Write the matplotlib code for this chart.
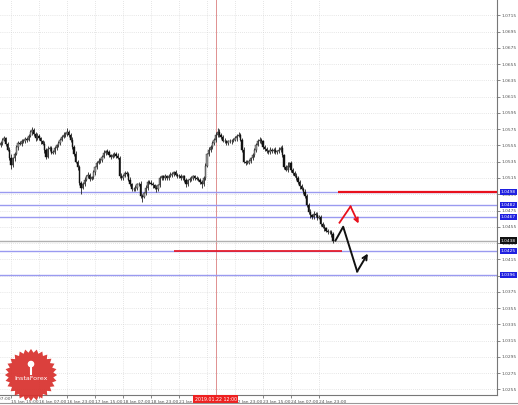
import numpy as np
import matplotlib
matplotlib.use("Agg")
import matplotlib.pyplot as plt
import matplotlib.transforms as mtransforms

# EURUSD-like H1 closes, one per bar
closes = [
    1.0558, 1.0562, 1.0564, 1.0557, 1.0550, 1.0540, 1.0531, 1.0539, 1.0545, 1.0553,
    1.0558, 1.0557, 1.0561, 1.0560, 1.0563, 1.0562, 1.0567, 1.0571, 1.0574, 1.0569,
    1.0564, 1.0567, 1.0564, 1.0560, 1.0557, 1.0550, 1.0541, 1.0551, 1.0552, 1.0546,
    1.0547, 1.0552, 1.0555, 1.0558, 1.0562, 1.0566, 1.0568, 1.0569, 1.0572, 1.0568,
    1.0562, 1.0553, 1.0545, 1.0535, 1.0528, 1.0509, 1.0503, 1.0508, 1.0513, 1.0517,
    1.0519, 1.0514, 1.0516, 1.0522, 1.0528, 1.0534, 1.0536, 1.0537, 1.0541, 1.0546,
    1.0548, 1.0547, 1.0543, 1.0541, 1.0543, 1.0545, 1.0542, 1.0540, 1.0518, 1.0515,
    1.0518, 1.0521, 1.0520, 1.0513, 1.0507, 1.0502, 1.0501, 1.0503, 1.0507, 1.0508,
    1.0493, 1.0492, 1.0496, 1.0503, 1.0510, 1.0509, 1.0508, 1.0506, 1.0503, 1.0501,
    1.0506, 1.0515, 1.0517, 1.0515, 1.0517, 1.0515, 1.0518, 1.0519, 1.0520, 1.0522,
    1.0519, 1.0518, 1.0517, 1.0515, 1.0517, 1.0512, 1.0507, 1.0512, 1.0514, 1.0515,
    1.0517, 1.0515, 1.0514, 1.0513, 1.0510, 1.0507, 1.0515, 1.0530, 1.0544, 1.0550,
    1.0553, 1.0558, 1.0562, 1.0568, 1.0572, 1.0568, 1.0566, 1.0561, 1.0560, 1.0558,
    1.0560, 1.0560, 1.0561, 1.0562, 1.0564, 1.0567, 1.0568, 1.0562, 1.0550, 1.0535,
    1.0534, 1.0534, 1.0536, 1.0539, 1.0543, 1.0550, 1.0556, 1.0560, 1.0562, 1.0560,
    1.0553, 1.0551, 1.0548, 1.0547, 1.0550, 1.0548, 1.0550, 1.0547, 1.0548, 1.0550,
    1.0552, 1.0543, 1.0529, 1.0525, 1.0530, 1.0533, 1.0525, 1.0521, 1.0518, 1.0515,
    1.0510, 1.0505, 1.0502, 1.0498, 1.0493, 1.0482, 1.0473, 1.0469, 1.0467, 1.0471,
    1.0469, 1.0466, 1.0467, 1.0459, 1.0455, 1.0453, 1.0450, 1.0449, 1.0448, 1.0446,
    1.0438,
]
first_open = 1.0555

# wick lengths in pips above / below the body
up_wick = [
    3, 2, 3, 2, 2, 3, 4, 2, 2, 3,  2, 3, 2, 2, 3, 2, 2, 3, 4, 2,
    2, 3, 2, 2, 2, 3, 2, 3, 2, 2,  3, 2, 2, 3, 2, 2, 3, 2, 4, 2,
    2, 3, 2, 3, 2, 3, 2, 2, 3, 2,  3, 2, 2, 3, 2, 2, 3, 2, 2, 3,
    2, 3, 2, 2, 3, 2, 2, 4, 2, 3,  2, 3, 2, 2, 3, 2, 2, 3, 2, 2,
    3, 2, 2, 3, 2, 2, 3, 2, 2, 3,  2, 3, 2, 2, 3, 2, 2, 3, 2, 2,
    3, 2, 2, 3, 2, 2, 3, 2, 2, 3,  2, 2, 3, 2, 2, 3, 2, 3, 2, 3,
    2, 3, 2, 3, 4, 3, 2, 2, 3, 2,  2, 3, 2, 2, 3, 2, 3, 2, 2, 3,
    2, 3, 2, 2, 3, 2, 2, 3, 3, 2,  2, 3, 2, 2, 3, 2, 2, 3, 2, 3,
    2, 3, 2, 2, 5, 2, 3, 2, 2, 3,  2, 3, 2, 2, 3, 2, 2, 4, 2, 3,
    2, 4, 2, 3, 2, 3, 2, 2, 2, 3,  2,
]
down_wick = [
    2, 3, 2, 3, 2, 3, 5, 2, 3, 2,  3, 2, 3, 2, 2, 3, 2, 2, 3, 2,
    3, 2, 2, 3, 2, 4, 3, 2, 3, 2,  2, 3, 2, 2, 3, 2, 2, 3, 2, 2,
    3, 2, 3, 2, 3, 3, 8, 2, 3, 2,  2, 3, 2, 2, 3, 2, 2, 3, 2, 2,
    3, 2, 2, 3, 2, 2, 3, 2, 3, 2,  2, 2, 3, 2, 2, 3, 2, 2, 3, 2,
    3, 6, 2, 2, 3, 2, 2, 3, 2, 3,  2, 2, 3, 2, 2, 3, 2, 2, 3, 2,
    2, 3, 2, 2, 3, 2, 3, 2, 2, 3,  2, 3, 2, 2, 3, 4, 2, 3, 2, 2,
    3, 2, 2, 3, 2, 2, 3, 2, 2, 3,  2, 2, 3, 2, 2, 3, 2, 2, 3, 2,
    3, 2, 2, 3, 2, 2, 3, 2, 2, 3,  2, 3, 2, 2, 3, 2, 2, 3, 2, 2,
    3, 2, 3, 2, 3, 2, 3, 2, 2, 3,  2, 3, 2, 3, 2, 3, 2, 3, 2, 3,
    2, 3, 2, 3, 2, 3, 2, 3, 2, 3,  3,
]

# time axis labels (bar index -> text)
first_tick = -10
first_label = "15 Jan 07:00"
time_ticks = [6, 22, 38, 54, 70, 86, 102, 118, 134, 150, 166, 182]
time_labels = ["15 Jan 15:00", "16 Jan 07:00", "16 Jan 23:00",
               "17 Jan 15:00", "18 Jan 07:00", "18 Jan 23:00", "21 Jan 15:00",
               "22 Jan 07:00", "22 Jan 23:00", "23 Jan 15:00", "24 Jan 07:00",
               "24 Jan 23:00"]
price_ticks = [round(1.0255 + 0.0020 * k, 4) for k in range(24)]

# levels drawn by the analyst
blue_levels = [1.0498, 1.0482, 1.0467, 1.0425, 1.0396]
bid_price = 1.0438
red_level_upper = (1.0498, 192.6)            # price, start bar (to the right edge)
red_level_lower = (1.0425, 99.4, 195.4)      # price, start bar, end bar
cursor_bar = 122.9
cursor_label = "2019.01.22 12:00"

red_path_x = [193.7, 200.0, 204.6]
red_path_y = [1.0460, 1.0480, 1.0459]
black_path_x = [191.4, 195.8, 203.8, 209.9]
black_path_y = [1.0438, 1.0455, 1.0400, 1.0422]

W, H = 518, 405
fig = plt.figure(figsize=(W / 100, H / 100), dpi=100)
fig.patch.set_facecolor("white")
ax = fig.add_axes([0, 10 / H, 497 / W, 395 / H])
ax.set_facecolor("white")

x_left = -0.3
x_right = 497 / 1.75 - 0.3
y_low, y_high = 1.0248, 1.0734

# grid (dotted, MT4 style)
for p in price_ticks:
    ax.axhline(p, color="#cfcfcf", lw=0.5, ls=(0, (1, 2)), zorder=0)
for t in time_ticks:
    ax.axvline(t, color="#cfcfcf", lw=0.5, ls=(0, (1, 2)), zorder=0)

# candles
c = np.array(closes)
o = np.concatenate([[first_open], c[:-1]])
hi = np.maximum(o, c) + np.array(up_wick) * 0.0001
lo = np.minimum(o, c) - np.array(down_wick) * 0.0001
idx = np.arange(len(c))
ax.vlines(idx, lo, hi, color="#222222", lw=0.6, zorder=3)
bull = c >= o
body_h = np.maximum(np.abs(c - o), 0.00008)
ax.bar(idx[bull], body_h[bull], bottom=np.minimum(o, c)[bull], width=0.75,
       color="#9a9a9a", edgecolor="#222222", linewidth=0.3, zorder=4)
ax.bar(idx[~bull], body_h[~bull], bottom=np.minimum(o, c)[~bull], width=0.75,
       color="#111111", edgecolor="#111111", linewidth=0.3, zorder=4)

# horizontal levels
for lv in blue_levels:
    ax.axhline(lv, color="#9a9af0", lw=1.0, zorder=2)
ax.axhline(bid_price, color="#b0b0b0", lw=1.0, zorder=2)
ax.hlines(red_level_upper[0], red_level_upper[1], x_right, color="#e8101c", lw=1.6, zorder=5)
ax.hlines(red_level_lower[0], red_level_lower[1], red_level_lower[2], color="#e8101c", lw=1.2, zorder=5)

# cursor line
ax.axvline(cursor_bar, color="#e09090", lw=0.7, zorder=1)

# forecast paths
ax.plot(red_path_x[:-1], red_path_y[:-1], color="#e8101c", lw=1.3, zorder=6)
ax.annotate("", xy=(red_path_x[-1], red_path_y[-1]), xytext=(red_path_x[-2], red_path_y[-2]),
            arrowprops=dict(arrowstyle="->", color="#e8101c", lw=1.3, mutation_scale=7,
                            shrinkA=0, shrinkB=0), zorder=6)
ax.plot(black_path_x[:-1], black_path_y[:-1], color="#111111", lw=1.4, zorder=6)
ax.annotate("", xy=(black_path_x[-1], black_path_y[-1]), xytext=(black_path_x[-2], black_path_y[-2]),
            arrowprops=dict(arrowstyle="->", color="#111111", lw=1.4, mutation_scale=8,
                            shrinkA=0, shrinkB=0), zorder=6)

# axes look
for s in ["top", "left"]:
    ax.spines[s].set_visible(False)
for s in ["right", "bottom"]:
    ax.spines[s].set_color("#777777")
    ax.spines[s].set_linewidth(0.8)
ax.yaxis.tick_right()
ax.set_yticks(price_ticks)
ax.set_yticklabels([f"{p:.4f}" for p in price_ticks])
ax.tick_params(axis="y", labelsize=3.2, colors="#555555", length=2, width=0.5, pad=1.5)
ax.set_xticks(time_ticks)
ax.set_xticklabels(time_labels, ha="left")
ax.tick_params(axis="x", labelsize=3.2, colors="#555555", length=2, width=0.5, pad=1.5)
ax.set_xlim(x_left, x_right)
ax.set_ylim(y_low, y_high)

tx = mtransforms.blended_transform_factory(ax.transData, ax.transAxes)
# top label partly above the frame, leftmost time label partly off the figure
ax.text(1.0, y_high + 0.0001, "", transform=ax.transData)
ax.text(first_tick, -0.0045, first_label, transform=tx, fontsize=3.2, color="#555555",
        ha="left", va="top", clip_on=False)
ax.text(1.012, 1.0735, "1.0735", transform=mtransforms.blended_transform_factory(ax.transAxes, ax.transData),
        fontsize=3.2, color="#555555", ha="left", va="center", clip_on=False)

# highlighted price labels on the right scale
trans = mtransforms.blended_transform_factory(ax.transAxes, ax.transData)
for lv in blue_levels:
    ax.text(1.008, lv, f"{lv:.4f}", transform=trans, fontsize=3.2, color="white",
            va="center", ha="left", clip_on=False, zorder=10,
            bbox=dict(facecolor="#2020e0", edgecolor="none", pad=0.8))
ax.text(1.008, bid_price, f"{bid_price:.4f}", transform=trans, fontsize=3.2, color="white",
        va="center", ha="left", clip_on=False, zorder=10,
        bbox=dict(facecolor="#111111", edgecolor="none", pad=0.8))

# cursor time label
ax.text(cursor_bar, -0.0115, cursor_label, transform=tx,
        fontsize=3.4, color="white", ha="center", va="center", clip_on=False, zorder=10,
        bbox=dict(facecolor="#ee2020", edgecolor="none", pad=1.2))

# bottom window border
fig.add_artist(plt.Line2D([0, 1], [2 / H, 2 / H], color="#999999", lw=0.8))

# InstaForex badge
lax = fig.add_axes([0 / W, 0 / H, 62 / W, 60 / H])
lax.set_xlim(-1.15, 1.15)
lax.set_ylim(-1.15, 1.15)
lax.set_aspect("equal")
lax.axis("off")
n_pts = 28
ang = np.linspace(0, 2 * np.pi, 2 * n_pts, endpoint=False)
rad = np.where(np.arange(2 * n_pts) % 2 == 0, 1.0, 0.86)
lax.fill(rad * np.cos(ang), rad * np.sin(ang), color="#d8302c", alpha=0.92, lw=0)
lax.text(0, -0.15, "InstaForex", color="white", fontsize=4.6, ha="center", va="center")
lax.plot([0, 0], [0.05, 0.35], color="white", lw=1.5)
lax.add_patch(plt.Circle((0, 0.42), 0.1, color="white"))

fig.savefig("out.png", dpi=100)
